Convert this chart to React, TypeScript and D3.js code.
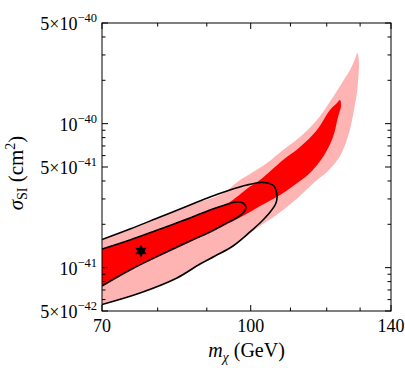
import React, { useEffect, useRef } from 'react';
import * as d3 from 'd3';

// [m_chi (GeV), sigma_SI (cm^2)]
// light band: upper edge from 70 GeV to the tip, lower edge from the tip back to 70 GeV
const pinkUpper: [number, number][] = [
  [70, 1.569e-41], [74.86, 1.855e-41], [80.45, 2.248e-41], [86.45, 2.723e-41],
  [91.79, 3.095e-41], [94.02, 3.352e-41], [97.46, 4.061e-41], [99.83, 4.471e-41],
  [103.98, 5.33e-41], [108.05, 6.563e-41], [112.55, 8.077e-41], [117.23, 1.06e-40],
  [121.82, 1.531e-40], [125.37, 2.075e-40], [126.89, 2.358e-40], [128.42, 2.812e-40],
  [129.19, 3.095e-40],
];
const pinkLower: [number, number][] = [
  [129.66, 2.68e-40], [129.5, 2.177e-40], [129.04, 1.659e-40], [128.11, 1.244e-40],
  [126.58, 8.611e-41], [123.88, 5.961e-41], [120.08, 4.616e-41], [117.23, 4.061e-41],
  [110.67, 2.857e-41], [106.0, 2.284e-41], [102.25, 1.947e-41], [98.64, 1.633e-41],
  [95.15, 1.369e-41], [91.79, 1.205e-41], [88.55, 1.06e-41], [83.79, 8.48e-42],
  [76.68, 6.67e-42], [70, 5.55e-42],
];
// dark band
const redUpper: [number, number][] = [
  [70, 1.348e-41], [74.86, 1.557e-41], [80.45, 1.855e-41], [86.45, 2.212e-41],
  [91.79, 2.596e-41], [94.7, 2.812e-41], [97.0, 3.145e-41], [99.35, 3.574e-41],
  [102.25, 4.061e-41], [108.05, 5.592e-41], [112.55, 6.886e-41], [117.23, 9.034e-41],
  [120.94, 1.244e-40], [122.99, 1.391e-40], [123.88, 1.46e-40],
];
const redLower: [number, number][] = [
  [124.18, 1.326e-40], [123.29, 1.112e-40], [121.82, 8.077e-41], [118.93, 5.866e-41],
  [115.28, 4.543e-41], [112.55, 3.997e-41], [107.28, 3.195e-41], [102.74, 2.723e-41],
  [99.83, 2.435e-41], [96.3, 2.142e-41], [91.79, 1.826e-41], [86.45, 1.508e-41],
  [80.45, 1.205e-41], [74.86, 9.63e-42], [70, 7.46e-42],
];
// contour lines (open at the left frame)
const outerContour: [number, number][] = [
  [70, 1.569e-41], [74.86, 1.855e-41], [80.45, 2.248e-41], [86.45, 2.723e-41],
  [90.7, 3.095e-41], [95.15, 3.461e-41], [99.11, 3.749e-41], [102.25, 3.902e-41],
  [104.23, 3.871e-41], [105.74, 3.69e-41], [106.51, 3.145e-41], [106.25, 2.812e-41],
  [104.98, 2.474e-41], [102.74, 2.108e-41], [99.83, 1.769e-41], [95.84, 1.414e-41],
  [91.79, 1.205e-41], [88.55, 1.06e-41], [83.79, 8.48e-42], [76.68, 6.67e-42],
  [70, 5.55e-42],
];
const innerContour: [number, number][] = [
  [70, 1.348e-41], [74.86, 1.557e-41], [80.45, 1.855e-41], [86.45, 2.212e-41],
  [90.7, 2.514e-41], [94.02, 2.723e-41], [96.53, 2.857e-41], [98.17, 2.812e-41],
  [98.88, 2.638e-41], [98.4, 2.435e-41], [97.0, 2.248e-41], [94.02, 2.01e-41],
  [90.7, 1.769e-41], [86.45, 1.532e-41], [80.45, 1.224e-41], [74.86, 9.63e-42],
  [70, 7.46e-42],
];
const bestFit: [number, number] = [76.86, 1.305e-41];

const xTicks = [70, 80, 90, 100, 110, 120, 130, 140];
const xLabels = [70, 100, 140];
const yLabels = [5e-42, 1e-41, 5e-41, 1e-40, 5e-40];

const FONT = "'Liberation Serif', 'Times New Roman', serif";

const App = () => {
  const svgRef = useRef<SVGSVGElement>(null);

  useEffect(() => {
    const svg = d3.select(svgRef.current);
    svg.selectAll('*').remove();

    const left = 102, right = 391, top = 23, bottom = 311;
    const x = d3.scaleLog().domain([70, 140]).range([left, right]);
    const y = d3.scaleLog().domain([5e-42, 5e-40]).range([bottom, top]);

    svg.append('clipPath').attr('id', 'plotclip')
      .append('rect')
      .attr('x', left).attr('y', top)
      .attr('width', right - left).attr('height', bottom - top);

    const plot = svg.append('g').attr('clip-path', 'url(#plotclip)');
    const line = d3.line<[number, number]>()
      .x(d => x(d[0]))
      .y(d => y(d[1]))
      .curve(d3.curveCatmullRom.alpha(0.5));

    // bands
    plot.append('path')
      .attr('d', line([...pinkUpper, ...pinkLower]) + 'Z')
      .attr('fill', '#ffb4b4');
    plot.append('path')
      .attr('d', line([...redUpper, ...redLower]) + 'Z')
      .attr('fill', '#ff0000');

    // contours
    [outerContour, innerContour].forEach(c => {
      plot.append('path')
        .attr('d', line(c))
        .attr('fill', 'none')
        .attr('stroke', '#000')
        .attr('stroke-width', 1.6);
    });

    // best fit point, six-pointed star
    const star = d3.range(12).map(i => {
      const r = i % 2 === 0 ? 6.5 : 3.6;
      const a = (i * Math.PI) / 6 - Math.PI / 2;
      return [r * Math.cos(a), r * Math.sin(a)] as [number, number];
    });
    plot.append('path')
      .attr('d', 'M' + star.map(p => p.join(',')).join('L') + 'Z')
      .attr('transform', `translate(${x(bestFit[0])},${y(bestFit[1])})`)
      .attr('fill', '#000');

    // frame
    svg.append('rect')
      .attr('x', left).attr('y', top)
      .attr('width', right - left).attr('height', bottom - top)
      .attr('fill', 'none')
      .attr('stroke', '#000')
      .attr('stroke-width', 1);

    const ticks = svg.append('g').attr('stroke', '#000').attr('stroke-width', 1);

    // x ticks, bottom and top
    xTicks.forEach(v => {
      const len = xLabels.includes(v) ? 6 : 3.5;
      const px = x(v);
      ticks.append('line').attr('x1', px).attr('x2', px).attr('y1', bottom).attr('y2', bottom - len);
      ticks.append('line').attr('x1', px).attr('x2', px).attr('y1', top).attr('y2', top + len);
    });

    // y ticks, left and right
    const yTicks: number[] = [];
    [-42, -41, -40].forEach(e => {
      for (let k = 1; k <= 9; k++) {
        const v = k * Math.pow(10, e);
        if (v >= 5e-42 * 0.999 && v <= 5e-40 * 1.001) yTicks.push(v);
      }
    });
    yTicks.forEach(v => {
      const major = yLabels.some(l => Math.abs(l - v) / l < 1e-6);
      const len = major ? 6 : 3.5;
      const py = y(v);
      ticks.append('line').attr('x1', left).attr('x2', left + len).attr('y1', py).attr('y2', py);
      ticks.append('line').attr('x1', right).attr('x2', right - len).attr('y1', py).attr('y2', py);
    });

    // x tick labels
    xLabels.forEach(v => {
      svg.append('text')
        .attr('x', x(v))
        .attr('y', 332)
        .attr('text-anchor', 'middle')
        .style('font-family', FONT)
        .style('font-size', '18px')
        .text(v);
    });

    // y tick labels: 5x10^-41 style
    yLabels.forEach(v => {
      const e = Math.floor(Math.log10(v) + 1e-9);
      const mant = Math.round(v / Math.pow(10, e));
      const t = svg.append('text')
        .attr('x', 97)
        .attr('y', y(v) + 7)
        .attr('text-anchor', 'end')
        .style('font-family', FONT)
        .style('font-size', '18px');
      t.append('tspan').text(mant === 1 ? '10' : `${mant}×10`);
      t.append('tspan')
        .attr('dy', -8)
        .style('font-size', '12.5px')
        .text(`−${-e}`);
    });

    // axis titles
    const xt = svg.append('text')
      .attr('x', (left + right) / 2)
      .attr('y', 357)
      .attr('text-anchor', 'middle')
      .style('font-family', FONT)
      .style('font-size', '20px');
    xt.append('tspan').style('font-style', 'italic').text('m');
    xt.append('tspan').attr('dy', 5).style('font-style', 'italic').style('font-size', '14px').text('χ');
    xt.append('tspan').attr('dy', -5).text(' (GeV)');

    const yt = svg.append('text')
      .attr('transform', `translate(23,${(top + bottom) / 2 + 6}) rotate(-90)`)
      .attr('text-anchor', 'middle')
      .style('font-family', FONT)
      .style('font-size', '21px');
    yt.append('tspan').style('font-style', 'italic').text('σ');
    yt.append('tspan').attr('dy', 4).style('font-size', '14px').text('SI');
    yt.append('tspan').attr('dy', -4).text(' (cm');
    yt.append('tspan').attr('dy', -8).style('font-size', '14px').text('2');
    yt.append('tspan').attr('dy', 8).text(')');
  }, []);

  return (
    <div style={{ position: 'absolute', left: 0, top: 0 }}>
      <svg ref={svgRef} width={405} height={368} style={{ background: '#fff', display: 'block' }} />
    </div>
  );
};

export default App;
